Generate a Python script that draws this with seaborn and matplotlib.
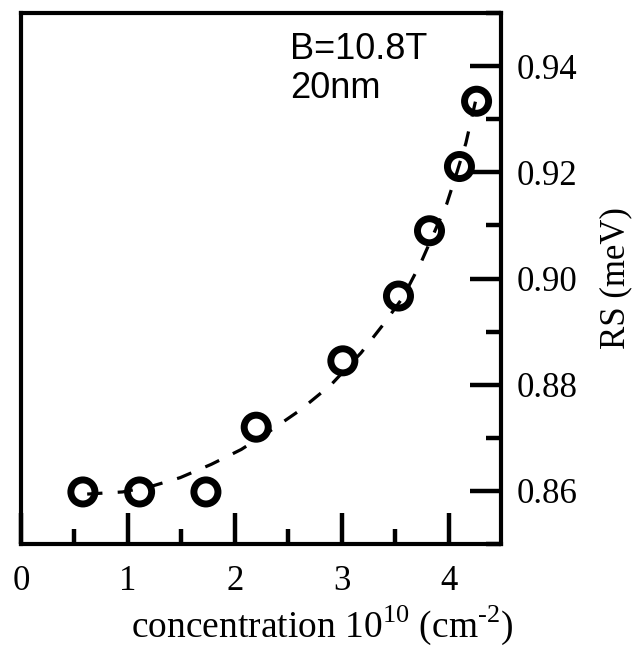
import matplotlib
matplotlib.use("Agg")
import matplotlib.pyplot as plt
import seaborn as sns
import pandas as pd
from matplotlib.ticker import MultipleLocator

# data points
conc = [0.58, 1.11, 1.73, 2.20, 3.01, 3.53, 3.82, 4.10, 4.26]
rs = [0.8598, 0.8598, 0.8598, 0.8720, 0.8845, 0.8967, 0.9090, 0.9211, 0.9334]

# dashed fit curve
fit_x = [0.62, 0.95, 1.21, 1.49, 1.78, 2.06, 2.33, 2.61, 2.90, 3.18, 3.39,
         3.57, 3.74, 3.98, 4.07, 4.16, 4.21, 4.28]
fit_y = [0.8594, 0.8598, 0.8608, 0.8625, 0.8650, 0.8678, 0.8713, 0.8752,
         0.8800, 0.8860, 0.8914, 0.8964, 0.9030, 0.9140, 0.9196, 0.9255,
         0.9299, 0.9360]

x_ticks = [0, 1, 2, 3, 4]
y_ticks = [0.86, 0.88, 0.90, 0.92, 0.94]
y_tick_labels = ["0.86", "0.88", "0.90", "0.92", "0.94"]

sns.set_theme(style="ticks")
plt.rcParams["font.family"] = ["Liberation Serif", "DejaVu Serif"]
plt.rcParams["lines.scale_dashes"] = False
plt.rcParams["mathtext.fontset"] = "custom"
plt.rcParams["mathtext.rm"] = "Liberation Serif"
plt.rcParams["text.color"] = "black"
plt.rcParams["axes.labelcolor"] = "black"
plt.rcParams["xtick.color"] = "black"
plt.rcParams["ytick.color"] = "black"

fig = plt.figure(figsize=(6.32, 6.55), dpi=100)
ax = fig.add_axes([0.033, 0.1695, 0.76, 0.8105])

df_fit = pd.DataFrame({"x": fit_x, "y": fit_y})
df_pts = pd.DataFrame({"x": conc, "y": rs})

sns.lineplot(data=df_fit, x="x", y="y", ax=ax, color="black", linewidth=2.3,
             sort=False, zorder=3)
ax.lines[0].set_dashes((11, 11))
sns.scatterplot(data=df_pts, x="x", y="y", ax=ax, marker="o", s=300,
                facecolors="none", edgecolors="black", linewidth=5, zorder=2)

ax.set_xlim(0, 4.49)
ax.set_ylim(0.85, 0.95)

ax.set_xticks(x_ticks)
ax.set_xticklabels([str(t) for t in x_ticks])
ax.xaxis.set_minor_locator(MultipleLocator(0.5))
ax.yaxis.tick_right()
ax.yaxis.set_label_position("right")
ax.set_yticks(y_ticks)
ax.set_yticklabels(y_tick_labels)
ax.yaxis.set_minor_locator(MultipleLocator(0.01))

ax.tick_params(axis="both", which="major", direction="in", length=22, width=3.2,
               labelsize=25, color="black", labelcolor="black", pad=11)
ax.tick_params(axis="x", which="major", pad=15)
ax.tick_params(axis="both", which="minor", direction="in", length=11, width=3.2,
               color="black")
ax.tick_params(axis="x", which="both", top=False, bottom=True)
ax.tick_params(axis="y", which="both", left=False, right=True)

for sp in ax.spines.values():
    sp.set_visible(True)
    sp.set_linewidth(3.0)
    sp.set_color("black")

ax.set_xlabel(r"concentration 10$^{10}$ (cm$^{\text{-}2}$)", fontsize=27,
              color="black")
ax.xaxis.set_label_coords(0.627, -0.112)
ax.set_ylabel("RS (meV)", fontsize=25, color="black")
ax.yaxis.set_label_coords(1.205, 0.5)

ax.text(0.56, 0.965, "B=10.8T\n20nm", transform=ax.transAxes, ha="left", va="top",
        fontsize=26, family=["Liberation Sans", "DejaVu Sans"], linespacing=1.15,
        color="black")

fig.savefig("out.png", dpi=100)
